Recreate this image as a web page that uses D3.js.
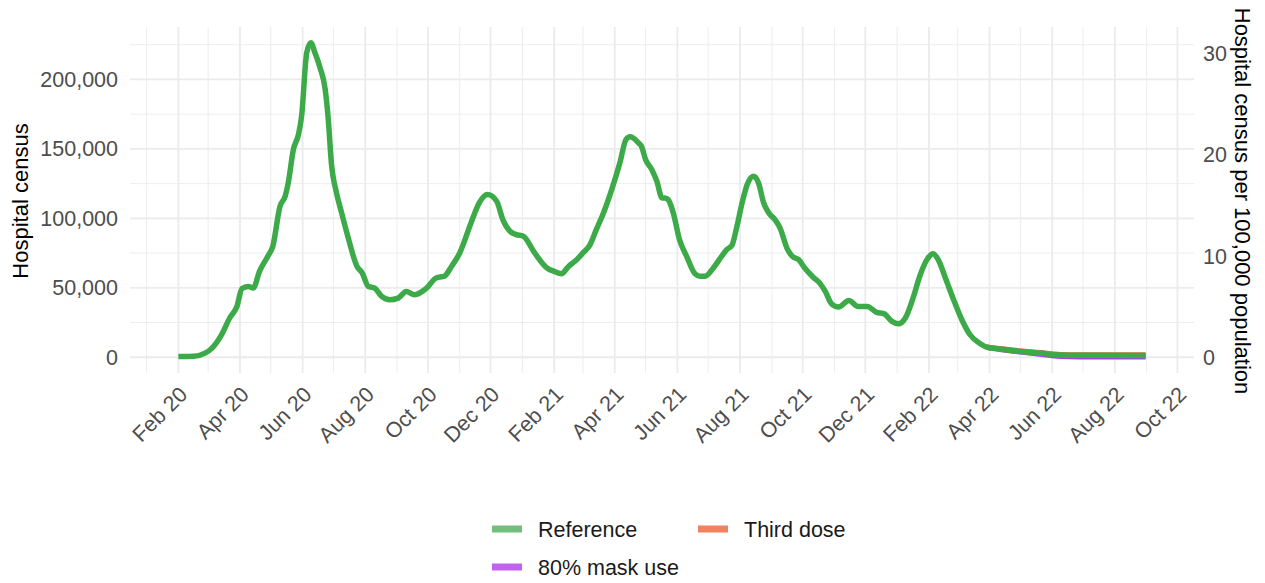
<!DOCTYPE html>
<html>
<head>
<meta charset="utf-8">
<script src="https://cdn.jsdelivr.net/npm/d3@7"></script>
<style>
  body { margin: 0; background: #fff; }
  text { font-family: "Liberation Sans", Arial, sans-serif; }
</style>
</head>
<body>
<div id="chart"></div>
<script>
var width  = 1265;
var height = 583;

// ------------- data --------------------------------------
var refDates = [
  "2020-02-01","2020-02-16","2020-02-27","2020-03-03","2020-03-14","2020-03-22","2020-03-29",
  "2020-04-03","2020-04-09","2020-04-14","2020-04-20","2020-04-28","2020-05-03","2020-05-10",
  "2020-05-15","2020-05-18","2020-05-23","2020-05-28","2020-05-31","2020-06-05","2020-06-09",
  "2020-06-13","2020-06-18","2020-06-23","2020-06-26","2020-06-29","2020-07-04","2020-07-09",
  "2020-07-15","2020-07-24","2020-07-29","2020-08-04","2020-08-10","2020-08-17","2020-08-25",
  "2020-09-02","2020-09-10","2020-09-18","2020-09-30","2020-10-09","2020-10-17","2020-10-24",
  "2020-11-01","2020-11-12","2020-11-20","2020-11-28","2020-12-07","2020-12-13","2020-12-20",
  "2020-12-26","2021-01-02","2021-01-13","2021-01-25","2021-02-01","2021-02-08","2021-02-15",
  "2021-02-23","2021-03-01","2021-03-08","2021-03-14","2021-03-21","2021-03-29","2021-04-06",
  "2021-04-12","2021-04-16","2021-04-24","2021-04-27","2021-05-01","2021-05-07","2021-05-12",
  "2021-05-17","2021-05-20","2021-05-23","2021-05-28","2021-06-03","2021-06-10","2021-06-18",
  "2021-06-23","2021-06-28","2021-07-06","2021-07-14","2021-07-19","2021-07-24","2021-07-29",
  "2021-08-03","2021-08-08","2021-08-14","2021-08-19","2021-08-24","2021-08-29","2021-09-04",
  "2021-09-09","2021-09-16","2021-09-21","2021-09-27","2021-10-03","2021-10-11","2021-10-18",
  "2021-10-23","2021-10-29","2021-11-05","2021-11-15","2021-11-24","2021-12-03","2021-12-12",
  "2021-12-19","2021-12-27","2022-01-02","2022-01-09","2022-01-17","2022-01-23","2022-01-30",
  "2022-02-05","2022-02-10","2022-02-17","2022-02-25","2022-03-05","2022-03-13","2022-03-23",
  "2022-03-29","2022-04-11","2022-05-01","2022-05-20","2022-06-09","2022-06-28","2022-08-31"
];
var refCensus = [
  500, 700, 3000, 5400, 16200, 28300, 36600,
  49500, 51000, 49900, 61800, 72600, 79900, 108700,
  115900, 125500, 149500, 160400, 173500, 219200, 226400,
  219200, 208400, 192800, 171200, 140000, 118400, 103900,
  87100, 65400, 60700, 51000, 49900, 43800, 41400,
  42600, 47400, 45000, 49900, 57100, 58300, 65400,
  75100, 96700, 111100, 117100, 112300, 99100, 90700,
  88300, 87100, 75100, 64300, 61800, 60200, 65400,
  70300, 75100, 81100, 91900, 103900, 120700, 140000,
  156800, 158700, 154400, 151900, 142300, 135100, 126700,
  114700, 114700, 113500, 103900, 84700, 72600, 60200,
  58300, 58300, 64300, 72600, 77500, 80400, 94300,
  111100, 124300, 130300, 125500, 111100, 103900, 99100,
  93000, 78000, 72600, 70300, 64300, 57800, 53000,
  47400, 38600, 36200, 40900, 36600, 36600, 32300,
  31400, 25800, 24100, 28300, 43800, 58300, 70300,
  74600, 70300, 57100, 41400, 27000, 16200, 9700,
  7300, 5900, 4200, 3000, 1600, 1400, 1300
];

// the scenarios only part from the reference in spring 2022
var scenarioDates = ["2022-03-29","2022-04-11","2022-05-01","2022-05-20","2022-06-09","2022-06-28","2022-08-31"];
var thirdDoseCensus = [7300, 6100, 4450, 3250, 1850, 1650, 1550];
var maskUseCensus   = [7300, 5800, 3900, 2300, 800, 450, 300];

var seriesNames  = ["Reference", "Third dose", "80% mask use"];
var seriesColors = ["#3daa4a", "#ee6a43", "#a740ea"];
var legendColors = ["#72bf7c", "#f0825f", "#c062f0"];

var leftTicks  = [0, 50000, 100000, 150000, 200000];
var rightTicks = [0, 10, 20, 30];
var censusPerUnit = 7280;   // hospital census per 1 patient / 100,000 population

// ------------- layout -----------------
var panel = {left: 130, right: 1194, top: 27, bottom: 373};
var fontSize  = 21.5;
var titleSize = 22;

var parse = d3.timeParse("%Y-%m-%d");
var refData = refDates.map(function(d, i){ return {date: parse(d), value: refCensus[i]}; });
var thirdData = scenarioDates.map(function(d, i){ return {date: parse(d), value: thirdDoseCensus[i]}; });
var maskData  = scenarioDates.map(function(d, i){ return {date: parse(d), value: maskUseCensus[i]}; });

var svg = d3.select("#chart").append("svg")
    .attr("width", width)
    .attr("height", height);

// ggplot style 5% expansion on both scales
var xExt = d3.extent(refData, function(d){ return d.date; });
var xPad = (xExt[1] - xExt[0]) * 0.05;
var x = d3.scaleTime()
    .domain([new Date(+xExt[0] - xPad), new Date(+xExt[1] + xPad)])
    .range([panel.left, panel.right]);

var yMax = d3.max(refData, function(d){ return d.value; });
var y = d3.scaleLinear()
    .domain([-0.05 * yMax, 1.05 * yMax])
    .range([panel.bottom, panel.top]);

var yRight = d3.scaleLinear()
    .domain(y.domain().map(function(v){ return v / censusPerUnit; }))
    .range([panel.bottom, panel.top]);

// ------------- grid -----------------
var gridGroup = svg.append("g");
var months = d3.timeMonth.range(d3.timeMonth.ceil(x.domain()[0]), x.domain()[1]);
var majorMonths = months.filter(function(d){ return d.getMonth() % 2 === 1; });
var minorMonths = months.filter(function(d){ return d.getMonth() % 2 === 0; });

var yStep = leftTicks[1] - leftTicks[0];
var minorY = [leftTicks[0] - yStep / 2].concat(leftTicks.map(function(v){ return v + yStep / 2; }))
    .filter(function(v){ return v >= y.domain()[0] && v <= y.domain()[1]; });

gridGroup.selectAll("line.minorY")
    .data(minorY).enter().append("line")
    .attr("x1", panel.left).attr("x2", panel.right)
    .attr("y1", function(d){ return y(d); }).attr("y2", function(d){ return y(d); })
    .attr("stroke", "#ebebeb").attr("stroke-width", 0.9);

gridGroup.selectAll("line.minorX")
    .data(minorMonths).enter().append("line")
    .attr("x1", function(d){ return x(d); }).attr("x2", function(d){ return x(d); })
    .attr("y1", panel.top).attr("y2", panel.bottom)
    .attr("stroke", "#ebebeb").attr("stroke-width", 0.9);

gridGroup.selectAll("line.majorY")
    .data(leftTicks).enter().append("line")
    .attr("x1", panel.left).attr("x2", panel.right)
    .attr("y1", function(d){ return y(d); }).attr("y2", function(d){ return y(d); })
    .attr("stroke", "#ebebeb").attr("stroke-width", 1.8);

gridGroup.selectAll("line.majorX")
    .data(majorMonths).enter().append("line")
    .attr("x1", function(d){ return x(d); }).attr("x2", function(d){ return x(d); })
    .attr("y1", panel.top).attr("y2", panel.bottom)
    .attr("stroke", "#ebebeb").attr("stroke-width", 1.8);

// ------------- lines -----------------
var line = d3.line()
    .x(function(d){ return x(d.date); })
    .y(function(d){ return y(d.value); })
    .curve(d3.curveMonotoneX);

var drawOrder = [
  {data: maskData,  color: seriesColors[2]},
  {data: thirdData, color: seriesColors[1]},
  {data: refData,   color: seriesColors[0]}
];
drawOrder.forEach(function(s){
  svg.append("path")
    .datum(s.data)
    .attr("d", line)
    .attr("fill", "none")
    .attr("stroke", s.color)
    .attr("stroke-width", 5.5)
    .attr("stroke-linejoin", "round")
    .attr("stroke-linecap", "butt");
});

// ------------- axes -----------------
var axisLeft = svg.append("g")
    .attr("transform", "translate(" + panel.left + ",0)")
    .call(d3.axisLeft(y).tickValues(leftTicks).tickSize(0).tickPadding(12).tickFormat(d3.format(",")));

var axisRight = svg.append("g")
    .attr("transform", "translate(" + panel.right + ",0)")
    .call(d3.axisRight(yRight).tickValues(rightTicks).tickSize(0).tickPadding(9));

var axisBottom = svg.append("g")
    .attr("transform", "translate(0," + panel.bottom + ")")
    .call(d3.axisBottom(x).tickValues(majorMonths).tickSize(0).tickFormat(d3.timeFormat("%b %y")));

axisBottom.selectAll("text")
    .attr("x", 0).attr("y", 0)
    .attr("dy", "0.71em")
    .attr("text-anchor", "end")
    .attr("transform", "translate(-1,12) rotate(-45)");

[axisLeft, axisRight, axisBottom].forEach(function(a){
  a.select(".domain").remove();
  a.selectAll("text")
    .attr("fill", "#4d4d4d")
    .style("font-size", fontSize + "px")
    .style("font-family", "'Liberation Sans', Arial, sans-serif");
});

// axis titles
svg.append("text")
    .attr("transform", "translate(28," + ((panel.top + panel.bottom) / 2 + 1) + ") rotate(-90)")
    .attr("text-anchor", "middle")
    .style("font-size", titleSize + "px")
    .attr("fill", "#000")
    .text("Hospital census");

svg.append("text")
    .attr("transform", "translate(1235,201) rotate(90)")
    .attr("text-anchor", "middle")
    .style("font-size", titleSize + "px")
    .attr("fill", "#000")
    .text("Hospital census per 100,000 population");

// ------------- legend -----------------
var legendItems = [
  {name: seriesNames[0], color: legendColors[0], kx: 492, ky: 529},
  {name: seriesNames[1], color: legendColors[1], kx: 698, ky: 529},
  {name: seriesNames[2], color: legendColors[2], kx: 492, ky: 567}
];
var legend = svg.append("g");
legendItems.forEach(function(d){
  legend.append("line")
    .attr("x1", d.kx).attr("x2", d.kx + 30)
    .attr("y1", d.ky).attr("y2", d.ky)
    .attr("stroke", d.color)
    .attr("stroke-width", 7);
  legend.append("text")
    .attr("x", d.kx + 46)
    .attr("y", d.ky)
    .attr("dy", "0.35em")
    .style("font-size", fontSize + "px")
    .attr("fill", "#1a1a1a")
    .text(d.name);
});
</script>
</body>
</html>
